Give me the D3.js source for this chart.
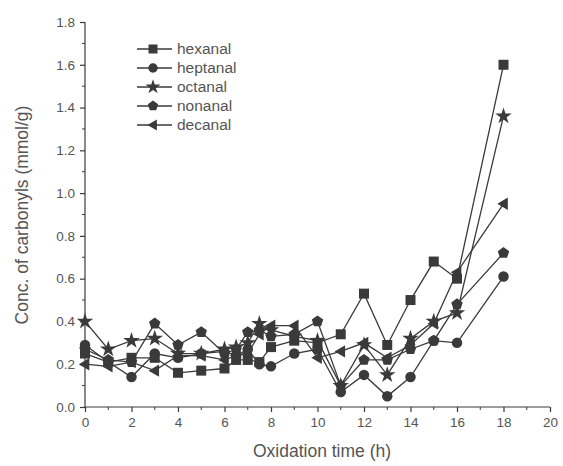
<!DOCTYPE html>
<html><head><meta charset="utf-8">
<script src="https://cdn.jsdelivr.net/npm/d3@7"></script>
<style>body{margin:0;background:#fff}svg{display:block}</style>
</head><body>
<svg id="c" width="563" height="466"></svg>
<script>
const times = [0,1,2,3,4,5,6,6.5,7,7.5,8,9,10,11,12,13,14,15,16,18];
const hexanal  = [0.25,0.21,0.23,0.23,0.16,0.17,0.18,0.22,0.22,0.21,0.28,0.31,0.30,0.34,0.53,0.29,0.50,0.68,0.60,1.60];
const heptanal = [0.29,0.21,0.14,0.25,0.23,0.25,0.26,0.24,0.27,0.20,0.19,0.25,0.27,0.07,0.15,0.05,0.14,0.31,0.30,0.61];
const octanal  = [0.40,0.27,0.31,0.32,0.25,0.25,0.27,0.28,0.30,0.39,0.36,0.33,0.31,0.10,0.29,0.15,0.32,0.40,0.44,1.36];
const nonanal  = [0.27,0.22,0.21,0.39,0.29,0.35,0.25,0.27,0.35,0.36,0.33,0.34,0.40,0.10,0.22,0.22,0.27,0.31,0.48,0.72];
const decanal  = [0.20,0.19,0.21,0.17,0.24,0.24,0.22,0.24,0.25,0.34,0.38,0.38,0.23,0.26,0.30,0.23,0.29,0.39,0.63,0.95];
const seriesNames = ["hexanal","heptanal","octanal","nonanal","decanal"];
const seriesShapes = ["square","circle","star","pentagon","triangleLeft"];
const xTicks = [0,2,4,6,8,10,12,14,16,18,20];
const yTicks = [0.0,0.2,0.4,0.6,0.8,1.0,1.2,1.4,1.6,1.8];
const xLabel = "Oxidation time (h)";
const yLabel = "Conc. of carbonyls (mmol/g)";

const allSeries = [hexanal,heptanal,octanal,nonanal,decanal];
const svg = d3.select("#c");
const col = "#3a3a3a", txt = "#555";
const font = "Liberation Sans, Arial, sans-serif";
const x = d3.scaleLinear().domain([0,20]).range([85,550]);
const y = d3.scaleLinear().domain([0,1.8]).range([407,22]);

function shapePath(name, s){
  if(name==="square") return d3.symbol(d3.symbolSquare, s*s)();
  if(name==="circle") return d3.symbol(d3.symbolCircle, Math.PI*(s/2)*(s/2)*1.1)();
  if(name==="star") return d3.symbol(d3.symbolStar, s*s*0.85)();
  if(name==="pentagon"){
    const r = s*0.6; let p="";
    for(let i=0;i<5;i++){const a=-Math.PI/2+i*2*Math.PI/5;p+=(i?"L":"M")+(r*Math.cos(a)).toFixed(2)+","+(r*Math.sin(a)).toFixed(2);}
    return p+"Z";
  }
  if(name==="triangleLeft"){
    const r=s*0.62;
    return `M${-r},0L${r*0.7},${-r}L${r*0.7},${r}Z`;
  }
}

// axes
const xAxis = d3.axisBottom(x).tickValues(xTicks).tickFormat(d3.format("d")).tickSize(5).tickPadding(5);
const gx = svg.append("g").attr("transform","translate(0,407)").call(xAxis);
const yAxis = d3.axisLeft(y).tickValues(yTicks).tickFormat(d3.format(".1f")).tickSize(5).tickPadding(5);
const gy = svg.append("g").attr("transform","translate(85,0)").call(yAxis);
// minor ticks
const xMinor = d3.range(1,20,2);
svg.append("g").selectAll("line").data(xMinor).join("line")
  .attr("x1",d=>x(d)).attr("x2",d=>x(d)).attr("y1",407).attr("y2",410).attr("stroke",col);
const yMinor = d3.range(0.1,1.8,0.2);
svg.append("g").selectAll("line").data(yMinor).join("line")
  .attr("x1",82).attr("x2",85).attr("y1",d=>y(d)).attr("y2",d=>y(d)).attr("stroke",col);
[gx,gy].forEach(g=>{
  g.selectAll("path,line").attr("stroke",col).attr("stroke-width",1.2);
  g.selectAll("text").attr("fill",txt).attr("font-family",font).attr("font-size",13.5);
});
gx.select(".domain").attr("d","M85,0H550");
gy.select(".domain").attr("d","M0,407V22");

svg.append("text").attr("x",322).attr("y",457).attr("text-anchor","middle")
  .attr("fill",txt).attr("font-family",font).attr("font-size",17.5).text(xLabel);
svg.append("text").attr("transform","translate(28,215) rotate(-90)").attr("text-anchor","middle")
  .attr("fill",txt).attr("font-family",font).attr("font-size",17.5).text(yLabel);

// series
const line = d3.line().x((d,i)=>x(times[i])).y(d=>y(d));
allSeries.forEach((vals,k)=>{
  svg.append("path").attr("d",line(vals)).attr("fill","none").attr("stroke",col).attr("stroke-width",1.3);
});
allSeries.forEach((vals,k)=>{
  svg.append("g").selectAll("path").data(vals).join("path")
    .attr("transform",(d,i)=>`translate(${x(times[i])},${y(d)})`)
    .attr("d",shapePath(seriesShapes[k],10)).attr("fill",col);
});

// legend
const lg = svg.append("g");
seriesNames.forEach((n,k)=>{
  const yy = 49 + k*19;
  lg.append("line").attr("x1",137).attr("x2",172).attr("y1",yy).attr("y2",yy).attr("stroke",col).attr("stroke-width",1.3);
  lg.append("path").attr("transform",`translate(153,${yy})`).attr("d",shapePath(seriesShapes[k],9)).attr("fill",col);
  lg.append("text").attr("x",177).attr("y",yy+5).attr("fill",txt).attr("font-family",font).attr("font-size",15.5).text(n);
});
</script>
</body></html>
